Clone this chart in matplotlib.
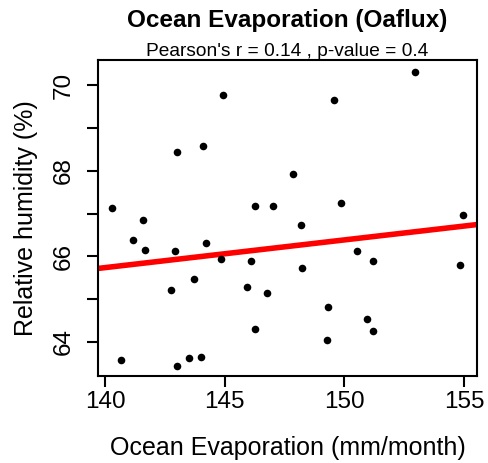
import matplotlib
matplotlib.use("Agg")
import matplotlib.pyplot as plt
import numpy as np

plt.rcParams['font.family'] = ['Liberation Sans', 'DejaVu Sans']

# Ocean evaporation (mm/month) vs relative humidity (%)
evaporation = [144.94, 143.00, 144.11, 140.31, 146.27, 147.00, 147.84, 152.93,
               149.57, 149.84, 154.97, 141.57, 141.16, 141.67, 142.91, 144.22,
               144.83, 146.10, 143.72, 142.74, 145.95, 146.78, 146.26, 140.67,
               143.00, 143.51, 144.01, 148.19, 150.52, 151.21, 148.23, 154.83,
               149.33, 150.93, 151.20, 149.26]
humidity = [69.76, 68.43, 68.58, 67.13, 67.18, 67.17, 67.92, 70.31,
            69.65, 67.24, 66.97, 66.86, 66.39, 66.15, 66.12, 66.30,
            65.94, 65.88, 65.46, 65.21, 65.29, 65.15, 64.31, 63.58,
            63.43, 63.61, 63.65, 66.72, 66.13, 65.88, 65.73, 65.80,
            64.82, 64.54, 64.25, 64.04]
xticks = [140, 145, 150, 155]
yticks = [64, 65, 66, 67, 68, 69, 70]
ylabels = ['64', '', '66', '', '68', '', '70']

fig = plt.figure(figsize=(4.89, 4.63), dpi=100)
ax = fig.add_axes([0.2004, 0.1879, 0.7751, 0.6825])

ax.scatter(evaporation, humidity, s=30, color='black', zorder=3, linewidths=0)

# linear fit
slope, icpt = np.polyfit(evaporation, humidity, 1)
xlim = (139.71, 155.54)
xs = np.array(xlim)
ax.plot(xs, slope * xs + icpt, color='red', lw=4, solid_capstyle='butt', zorder=2)

ax.set_xlim(*xlim)
ax.set_ylim(63.20, 70.59)
ax.set_xticks(xticks)
ax.set_yticks(yticks)
ax.set_yticklabels(ylabels, rotation=90, va='center')
ax.tick_params(direction='out', length=8, width=1.5, labelsize=17.5)
ax.tick_params(axis='x', pad=3)
ax.tick_params(axis='y', pad=9)
for sp in ax.spines.values():
    sp.set_linewidth(1.5)

pos = ax.get_position()
ax.set_xlabel('Ocean Evaporation (mm/month)', fontsize=18, va='center')
ax.xaxis.set_label_coords(pos.x0 + pos.width / 2, 1 - 448 / 463,
                          transform=fig.transFigure)
ax.set_ylabel('Relative humidity (%)', fontsize=18, va='center')
ax.yaxis.set_label_coords(26 / 489, pos.y0 + pos.height / 2,
                          transform=fig.transFigure)

fig.text(287.5 / 489, 1 - 21 / 463, 'Ocean Evaporation (Oaflux)', ha='center',
         va='center', fontsize=17.5, fontweight='bold')
fig.text(287.5 / 489, 1 - 51 / 463, "Pearson's r = 0.14 , p-value = 0.4",
         ha='center', va='center', fontsize=13.8)

fig.savefig('out.png', dpi=100)
